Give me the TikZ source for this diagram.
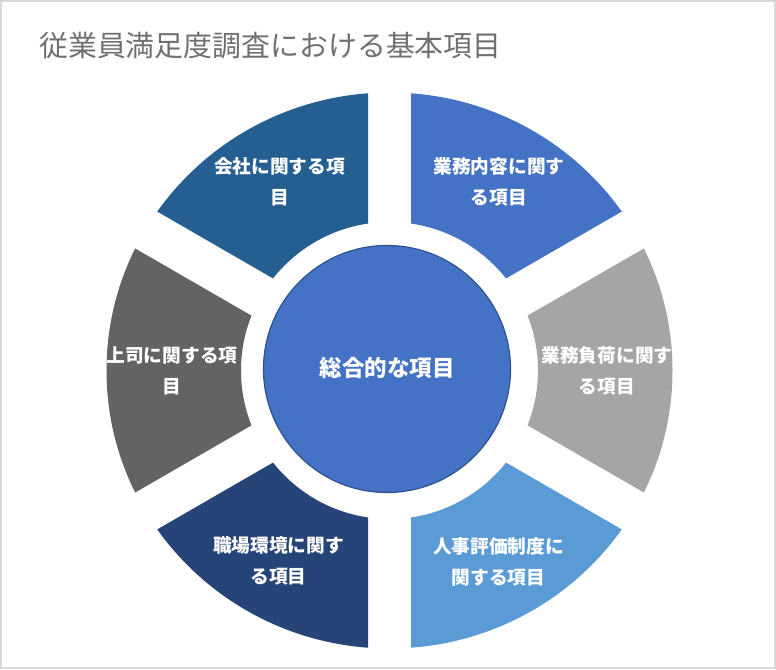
\documentclass[tikz,border=0pt]{standalone}
\usepackage{fontspec}
\setmainfont{Noto Sans CJK JP}
\usetikzlibrary{calc}
\definecolor{cA}{HTML}{4472C4}
\definecolor{cB}{HTML}{255E91}
\definecolor{cC}{HTML}{636363}
\definecolor{cD}{HTML}{264478}
\definecolor{cE}{HTML}{5B9BD5}
\definecolor{cF}{HTML}{A5A5A5}
\definecolor{hubline}{HTML}{2F528F}
\definecolor{framegray}{HTML}{D9D9D9}
\definecolor{titlegray}{HTML}{707070}
\tikzset{
  seglabel/.style={text=white, align=center, inner sep=0,
    font=\bfseries\fontsize{18.7}{31}\selectfont},
}
\begin{document}
\begin{tikzpicture}[x=1pt,y=1pt]
\useasboundingbox (0,0) rectangle (776,669);
\fill[white] (0,0) rectangle (776,669);
\draw[line width=2, framegray] (1,1) rectangle (775,668);
\node[anchor=west, inner sep=0, text=titlegray, font=\fontsize{28.9}{31}\selectfont] (title) at (39,623.5) {従業員満足度調査における基本項目};
\coordinate (C) at (389.5,298.5);
\foreach \a/\col in {30/cA, 90/cB, 150/cC, 210/cD, 270/cE, 330/cF} {
  \begin{scope}
    \clip ($(C)+(\a+30:43)$) -- ++(\a:700) -- ($(C)+(\a+30:43)+(\a+60:700)$) -- cycle;
    \fill[\col, even odd rule] (C) ellipse[x radius=283, y radius=278] (C) circle[radius=148.5];
  \end{scope}
}
\node[circle, fill=cA, draw=hubline, line width=1.2, minimum size=247, inner sep=0] (hub) at (387,300) {};
\node[seglabel, font=\bfseries\fontsize{22.5}{26}\selectfont] (hubtext) at (387,301) {総合的な項目};
\node[seglabel] (l1) at (279.5,487.5) {会社に関する項\\目};
\node[seglabel] (l2) at (499,487.5) {業務内容に関す\\る項目};
\node[seglabel] (l3) at (172,298) {上司に関する項\\目};
\node[seglabel] (l4) at (607,298) {業務負荷に関す\\る項目};
\node[seglabel] (l5) at (278.5,108) {職場環境に関す\\る項目};
\node[seglabel] (l6) at (498.5,107) {人事評価制度に\\関する項目};
\end{tikzpicture}
\end{document}
